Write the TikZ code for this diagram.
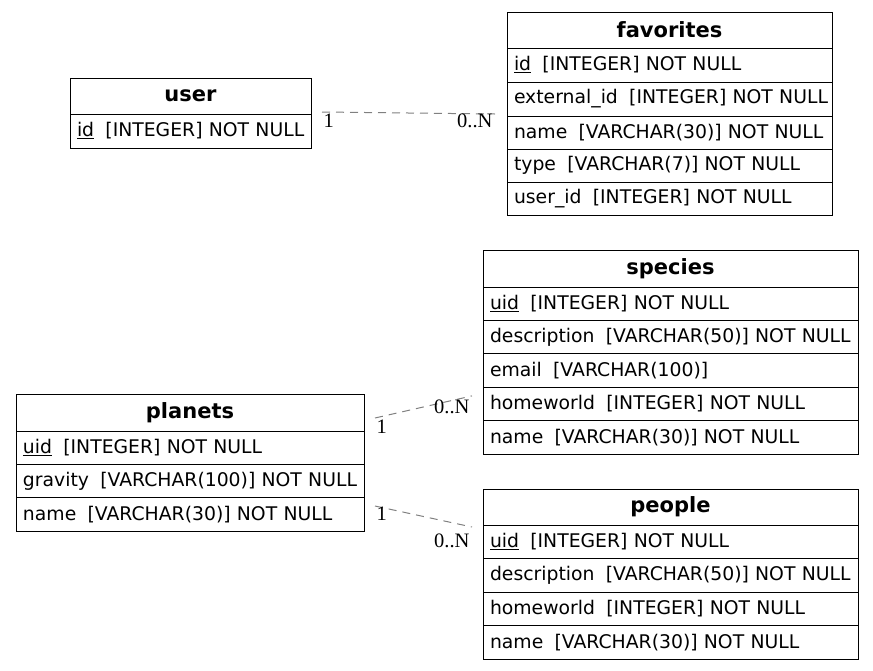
\documentclass[tikz,border=0pt]{standalone}
\usepackage{fontspec}
\setmainfont{DejaVu Sans}
\newfontfamily\cardfont{Liberation Serif}
\begin{document}
\begin{tikzpicture}[x=1pt,y=-1pt,
  tblhead/.style={draw, line width=1pt, outer sep=0pt, inner xsep=7pt, inner ysep=0pt,
    anchor=north west, align=center, font=\fontsize{21}{23}\selectfont\bfseries},
  tblrow/.style={draw, line width=1pt, outer sep=0pt, inner xsep=7pt, inner ysep=0pt,
    anchor=north west, align=left, font=\fontsize{18.8}{21}\selectfont},
  rel/.style={draw=black!50, line width=1pt, dash pattern=on 8pt off 6pt},
  card/.style={inner sep=0pt, font=\fontsize{20.5}{22}\selectfont\cardfont}]
% one column of a table: name, then its type, kept on one line
\newcommand{\fld}[2]{\mbox{#1\hspace{0.6em}#2}}
\newcommand{\pk}[1]{\underline{#1}}
\hbadness=10000 \hfuzz=100pt
\useasboundingbox (0,0) rectangle (873,670);

% user
\node[tblhead, text width=227pt, minimum height=36pt] (user-h) at (70,78) {user};
\node[tblrow, text width=227pt, minimum height=34pt] (user-1) at (user-h.south west) {\fld{\pk{id}}{[INTEGER] NOT NULL}};

% favorites
\node[tblhead, text width=311pt, minimum height=36pt] (fav-h) at (507,12) {favorites};
\node[tblrow, text width=311pt, minimum height=34pt] (fav-1) at (fav-h.south west) {\fld{\pk{id}}{[INTEGER] NOT NULL}};
\node[tblrow, text width=311pt, minimum height=34pt] (fav-2) at (fav-1.south west) {\fld{external\_id}{[INTEGER] NOT NULL}};
\node[tblrow, text width=311pt, minimum height=33pt] (fav-3) at (fav-2.south west) {\fld{name}{[VARCHAR(30)] NOT NULL}};
\node[tblrow, text width=311pt, minimum height=33pt] (fav-4) at (fav-3.south west) {\fld{type}{[VARCHAR(7)] NOT NULL}};
\node[tblrow, text width=311pt, minimum height=33pt] (fav-5) at (fav-4.south west) {\fld{user\_id}{[INTEGER] NOT NULL}};

% species
\node[tblhead, text width=361pt, minimum height=37pt] (spc-h) at (483,250) {species};
\node[tblrow, text width=361pt, minimum height=33.4pt] (spc-1) at (spc-h.south west) {\fld{\pk{uid}}{[INTEGER] NOT NULL}};
\node[tblrow, text width=361pt, minimum height=33.4pt] (spc-2) at (spc-1.south west) {\fld{description}{[VARCHAR(50)] NOT NULL}};
\node[tblrow, text width=361pt, minimum height=33.4pt] (spc-3) at (spc-2.south west) {\fld{email}{[VARCHAR(100)]}};
\node[tblrow, text width=361pt, minimum height=33.4pt] (spc-4) at (spc-3.south west) {\fld{homeworld}{[INTEGER] NOT NULL}};
\node[tblrow, text width=361pt, minimum height=33.4pt] (spc-5) at (spc-4.south west) {\fld{name}{[VARCHAR(30)] NOT NULL}};

% planets
\node[tblhead, text width=334pt, minimum height=37pt] (pln-h) at (16,394) {planets};
\node[tblrow, text width=334pt, minimum height=33.4pt] (pln-1) at (pln-h.south west) {\fld{\pk{uid}}{[INTEGER] NOT NULL}};
\node[tblrow, text width=334pt, minimum height=33.4pt] (pln-2) at (pln-1.south west) {\fld{gravity}{[VARCHAR(100)] NOT NULL}};
\node[tblrow, text width=334pt, minimum height=33.4pt] (pln-3) at (pln-2.south west) {\fld{name}{[VARCHAR(30)] NOT NULL}};

% people
\node[tblhead, text width=361pt, minimum height=36pt] (ppl-h) at (483,489) {people};
\node[tblrow, text width=361pt, minimum height=33.5pt] (ppl-1) at (ppl-h.south west) {\fld{\pk{uid}}{[INTEGER] NOT NULL}};
\node[tblrow, text width=361pt, minimum height=33.5pt] (ppl-2) at (ppl-1.south west) {\fld{description}{[VARCHAR(50)] NOT NULL}};
\node[tblrow, text width=361pt, minimum height=33.5pt] (ppl-3) at (ppl-2.south west) {\fld{homeworld}{[INTEGER] NOT NULL}};
\node[tblrow, text width=361pt, minimum height=33.5pt] (ppl-4) at (ppl-3.south west) {\fld{name}{[VARCHAR(30)] NOT NULL}};

% relationships
\draw[rel] ([xshift=11pt,yshift=2pt]user-1.north east) -- ([xshift=-12pt,yshift=2pt]fav-2.south west)
  node[pos=0, card, anchor=north west, xshift=1pt, yshift=-1pt, text=black] {1}
  node[pos=1, card, anchor=north east, xshift=-2pt, yshift=1pt, text=black] {0..N};
\draw[rel] ([xshift=11pt,yshift=-5.5pt]pln-h.east) -- ([xshift=-11pt,yshift=8pt]spc-4.west)
  node[pos=0, card, anchor=north west, xshift=1pt, yshift=-1pt, text=black] {1}
  node[pos=1, card, anchor=north east, xshift=-2pt, yshift=-3pt, text=black] {0..N};
\draw[rel] ([xshift=11pt,yshift=8.5pt]pln-3.east) -- ([xshift=-11pt,yshift=-2pt]ppl-h.south west)
  node[pos=0, card, anchor=north west, xshift=1pt, yshift=0pt, text=black] {1}
  node[pos=1, card, anchor=north east, xshift=-2pt, yshift=-6pt, text=black] {0..N};
\end{tikzpicture}
\end{document}
